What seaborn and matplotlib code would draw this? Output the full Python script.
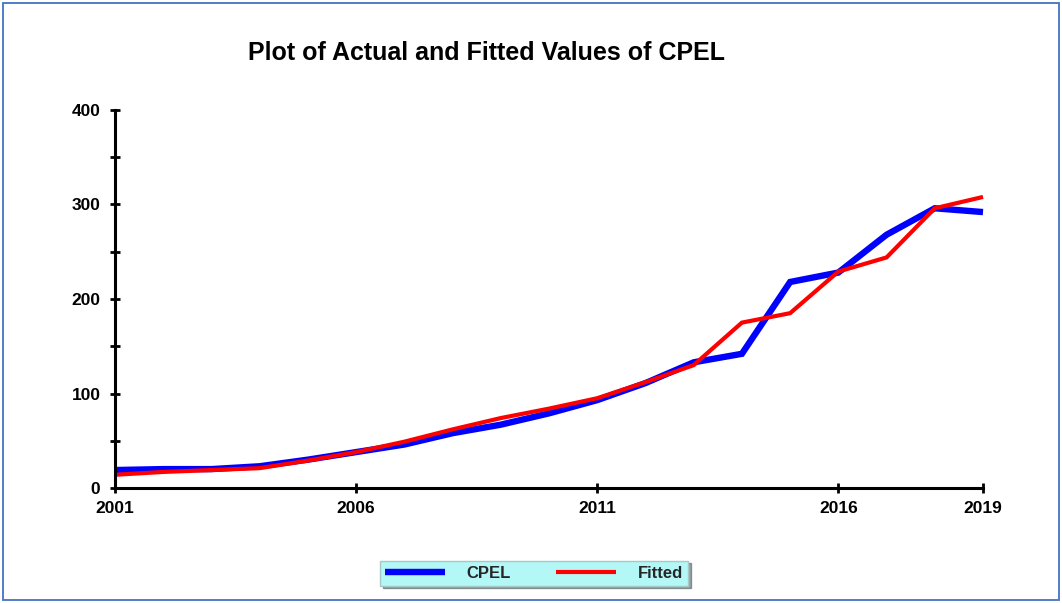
import numpy as np
import pandas as pd
import matplotlib
matplotlib.use("Agg")
import matplotlib.pyplot as plt
import seaborn as sns
from matplotlib.patches import Rectangle
from matplotlib.ticker import MultipleLocator

years = list(range(2001, 2020))
cpel = [19, 20, 20, 23, 30, 38, 46, 58, 67, 79, 93, 111, 133, 142, 218, 228, 268, 296, 292]
fitted = [14, 17, 19, 21, 29, 38, 49, 62, 74, 84, 95, 112, 130, 175, 185, 229, 244, 296, 308]
xticks = [2001, 2006, 2011, 2016, 2019]
yticks = [0, 100, 200, 300, 400]
title = "Plot of Actual and Fitted Values of CPEL"

sns.set_theme(style="white")
plt.rcParams['font.family'] = ['Liberation Sans', 'DejaVu Sans']

df = pd.DataFrame({"Year": years * 2,
                   "Value": cpel + fitted,
                   "Series": ["CPEL"] * len(years) + ["Fitted"] * len(years)})

fig = plt.figure(figsize=(10.62, 6.03), dpi=100)
ax = fig.add_axes([115/1062, 1 - 488/603, (983-115)/1062, (488-110)/603])

sns.lineplot(data=df[df.Series == "CPEL"], x="Year", y="Value", ax=ax,
             color="#0000FF", linewidth=4.6, label="CPEL", legend=False)
sns.lineplot(data=df[df.Series == "Fitted"], x="Year", y="Value", ax=ax,
             color="#FF0000", linewidth=3.0, label="Fitted", legend=False)

ax.set_xlim(2001, 2019)
ax.set_ylim(0, 400)
ax.set_xticks(xticks)
ax.set_yticks(yticks)
ax.yaxis.set_minor_locator(MultipleLocator(50))
ax.set_xlabel("")
ax.set_ylabel("")
for s in ["top", "right"]:
    ax.spines[s].set_visible(False)
for s in ["left", "bottom"]:
    ax.spines[s].set_color("black")
    ax.spines[s].set_linewidth(2.2)
ax.tick_params(axis="both", which="both", direction="inout", length=7, width=2,
               color="black", left=True, bottom=True)
ax.tick_params(axis="x", pad=6)
ax.tick_params(axis="y", pad=7)
for lab in ax.get_xticklabels() + ax.get_yticklabels():
    lab.set_fontweight("bold")
    lab.set_fontsize(12.5)
    lab.set_color("black")
ax.set_facecolor("white")
for ln in ax.get_lines():
    ln.set_clip_on(False)
    ln.set_solid_capstyle("butt")
    ln.set_solid_joinstyle("miter")

fig.text(487/1062, 1 - 53/603, title, ha="center", va="center",
         fontsize=18, fontweight="bold", color="black")

handles, labels = ax.get_legend_handles_labels()
leg = fig.legend(handles, labels, loc="center", bbox_to_anchor=(534/1062, 1 - 573/603),
                 ncol=2, frameon=True, fancybox=False, shadow=True,
                 facecolor="#B3F7F7", edgecolor="#A8C8C8",
                 handlelength=3.6, handletextpad=1.3, columnspacing=2.7,
                 borderpad=0.3,
                 prop={"weight": "bold", "size": 12})
leg.get_frame().set_linewidth(1.0)
for h in leg.get_lines():
    h.set_solid_capstyle("butt")

fig.patches.append(Rectangle((3/1062, 3/603), 1056/1062, 597/603, transform=fig.transFigure,
                             fill=False, edgecolor="#4472C4", linewidth=1.3))

fig.savefig("out.png", dpi=100)
